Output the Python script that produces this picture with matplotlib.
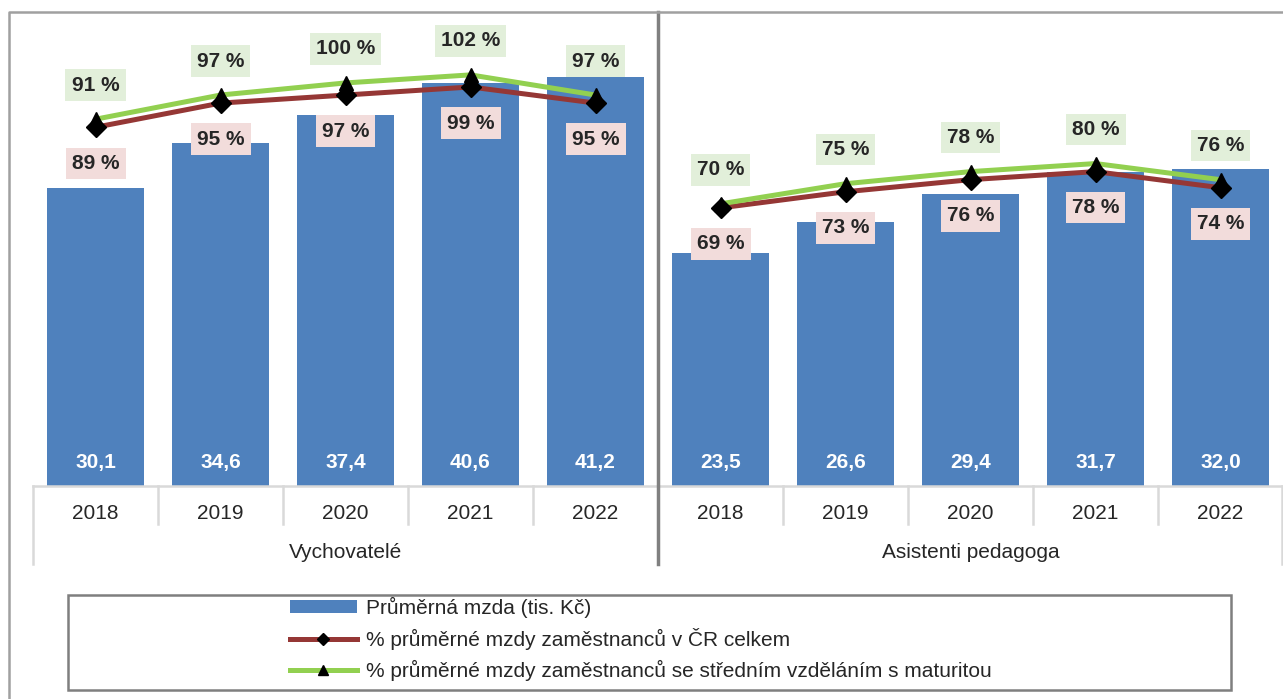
import numpy as np
import matplotlib.pyplot as plt
from matplotlib.lines import Line2D
from matplotlib.patches import Rectangle, Patch

plt.rcParams['font.family'] = ['Liberation Sans', 'DejaVu Sans']

# data
groups = ['Vychovatelé', 'Asistenti pedagoga']
years = ['2018', '2019', '2020', '2021', '2022']
mzda = [30.1, 34.6, 37.4, 40.6, 41.2, 23.5, 26.6, 29.4, 31.7, 32.0]
pct_cr = [89, 95, 97, 99, 95, 69, 73, 76, 78, 74]
pct_maturita = [91, 97, 100, 102, 97, 70, 75, 78, 80, 76]

W, H = 1283, 699
fig = plt.figure(figsize=(W / 100, H / 100), dpi=100)


def fx(x):
    return x / W


def fy(y):
    return 1 - y / H


ax = fig.add_axes([fx(33), fy(486), fx(1283) - fx(33), fy(12) - fy(486)])
ax2 = ax.twinx()

blue = '#4F81BD'
red = '#953735'
green = '#92D050'
txt = '#262626'

x = np.arange(len(mzda))
ax.bar(x, mzda, width=0.77, color=blue, zorder=2)
ax.set_xlim(-0.5, len(mzda) - 0.5)
ax.set_ylim(0, 47.8)
ax2.set_ylim(0, 117.6)

for a in (ax, ax2):
    for s in a.spines.values():
        s.set_visible(False)
    a.set_yticks([])
    a.set_xticks([])
ax.spines['bottom'].set_visible(True)
ax.spines['bottom'].set_color('#D9D9D9')
ax.spines['bottom'].set_linewidth(1.8)

# bar values
for i, v in enumerate(mzda):
    ax.annotate(f'{v:.1f}'.replace('.', ','), xy=(i, 0), xytext=(0, 17),
                textcoords='offset points', ha='center', va='center',
                color='white', fontsize=15, fontweight='bold', zorder=3)

# lines per group
n = len(years)
for g in range(len(groups)):
    xs = x[g * n:(g + 1) * n]
    ax2.plot(xs, pct_cr[g * n:(g + 1) * n], color=red, lw=3.6, zorder=3,
             solid_capstyle='butt')
    ax2.plot(xs, pct_maturita[g * n:(g + 1) * n], color=green, lw=3.6, zorder=3,
             solid_capstyle='butt')
    ax2.plot(xs, pct_maturita[g * n:(g + 1) * n], ls='none', marker='^', ms=10,
             color='black', zorder=4)
    ax2.plot(xs, pct_cr[g * n:(g + 1) * n], ls='none', marker='D', ms=10,
             color='black', zorder=5)

for i in range(len(mzda)):
    ax2.annotate(f'{pct_maturita[i]} %', xy=(x[i], pct_maturita[i]), xytext=(0, 24.5),
                 textcoords='offset points', ha='center', va='center',
                 fontsize=15, fontweight='bold', color=txt, zorder=6,
                 bbox=dict(boxstyle='square,pad=0.3', fc='#E2EFDA', ec='none'))
    ax2.annotate(f'{pct_cr[i]} %', xy=(x[i], pct_cr[i]), xytext=(0, -26),
                 textcoords='offset points', ha='center', va='center',
                 fontsize=15, fontweight='bold', color=txt, zorder=6,
                 bbox=dict(boxstyle='square,pad=0.3', fc='#F2DCDB', ec='none'))

# category axis labels
for i in range(len(mzda)):
    ax.annotate(years[i % n], xy=(x[i], 0), xycoords=('data', 'axes fraction'),
                xytext=(0, -19.5), textcoords='offset points', ha='center',
                va='center', fontsize=15, color=txt, annotation_clip=False)
for g, name in enumerate(groups):
    ax.annotate(name, xy=(g * n + (n - 1) / 2, 0), xycoords=('data', 'axes fraction'),
                xytext=(0, -48), textcoords='offset points', ha='center',
                va='center', fontsize=15, color=txt, annotation_clip=False)

# separators under the category axis
for k in range(11):
    xp = min(33 + 125 * k, 1281.5)
    if k == 5:
        continue
    y_end = 564 if k % 5 == 0 else 524
    fig.add_artist(Line2D([fx(xp), fx(xp)], [fy(486), fy(y_end)],
                          color='#D9D9D9', lw=1.8))
fig.add_artist(Line2D([fx(658), fx(658)], [fy(12), fy(564)],
                      color='#808080', lw=2.5))

# outer chart border
fig.add_artist(Line2D([fx(9), fx(9), fx(1283)], [fy(699), fy(12), fy(12)],
                      color='#A0A0A0', lw=1.8))

# legend
fig.add_artist(Rectangle((fx(68), fy(690)), fx(1231) - fx(68), fy(595) - fy(690),
                         transform=fig.transFigure, fill=False, ec='#7F7F7F', lw=1.8))
handles = [
    Patch(facecolor=blue, edgecolor='none'),
    Line2D([], [], color=red, lw=3.6, marker='D', ms=6, mfc='black', mec='black'),
    Line2D([], [], color=green, lw=3.6, marker='^', ms=7, mfc='black', mec='black'),
]
labels = ['Průměrná mzda (tis. Kč)',
          '% průměrné mzdy zaměstnanců v ČR celkem',
          '% průměrné mzdy zaměstnanců se středním vzděláním s maturitou']
fig.legend(handles, labels, loc='upper left', bbox_to_anchor=(fx(287), fy(594)),
           frameon=False, fontsize=15, handlelength=3.2, handleheight=0.6,
           handletextpad=0.45, labelspacing=0.48, borderaxespad=0, borderpad=0.15,
           labelcolor=txt)

fig.savefig('out.png', dpi=100)
